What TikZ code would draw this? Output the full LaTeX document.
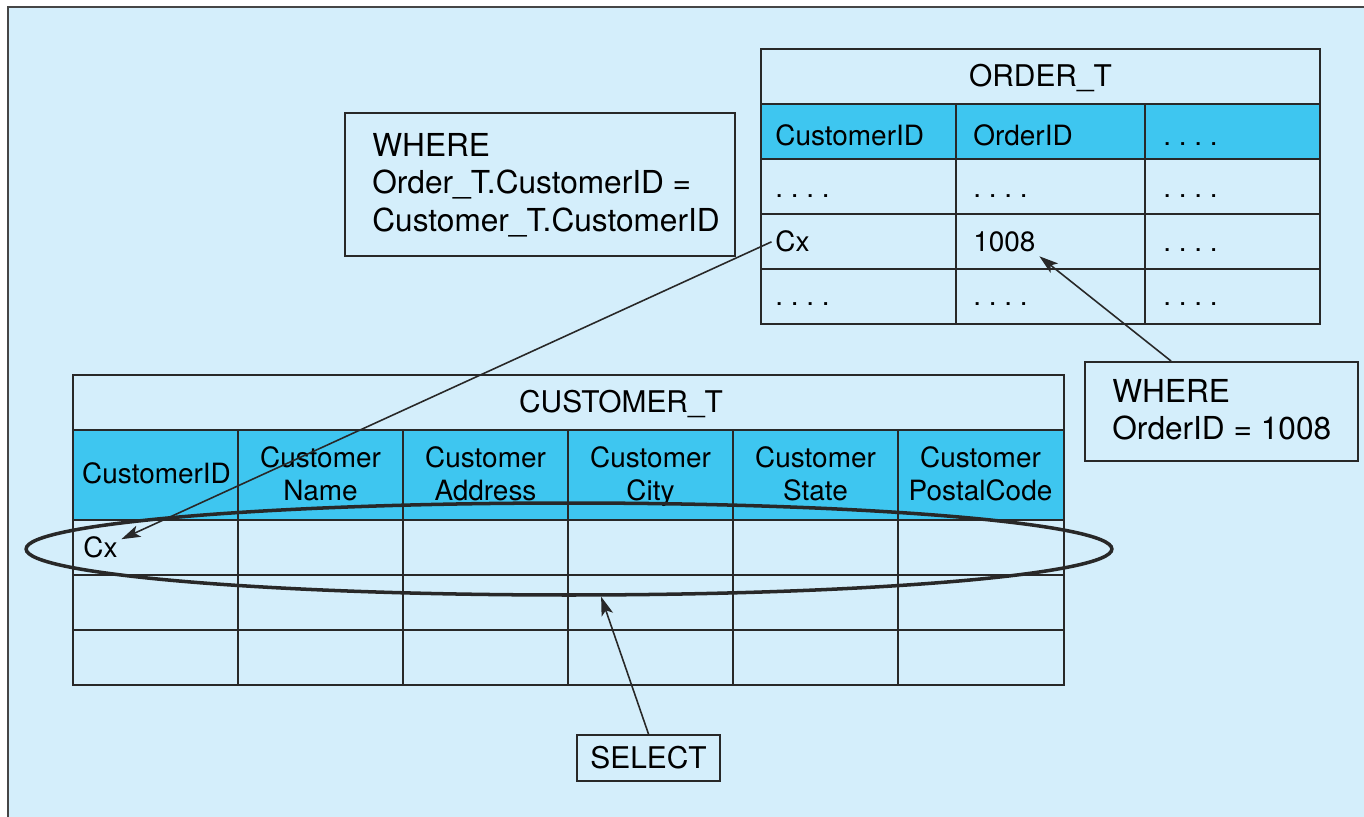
\documentclass[tikz,border=0pt]{standalone}
\usepackage{fontspec}
\setmainfont{TeX Gyre Heros}
\usepackage{tikz}
\usetikzlibrary{positioning,arrows.meta,shapes.geometric}
\definecolor{bgblue}{RGB}{212,238,251}
\definecolor{hdrblue}{RGB}{62,198,240}
\definecolor{ink}{RGB}{40,40,40}
\definecolor{frame}{RGB}{70,70,70}
\newcommand{\fcell}{\fontsize{15.9pt}{18.7pt}\selectfont}
\newcommand{\ftitle}{\fontsize{17pt}{20pt}\selectfont}
\newcommand{\fquery}{\fontsize{18pt}{21.3pt}\selectfont}
\newcommand{\dotrow}{.\ .\ .\ .}

\begin{document}
\begin{tikzpicture}[x=0.02cm, y=-0.02cm,
  tabline/.style={draw=ink, line width=1.1pt},
  cell/.style={inner sep=2pt, anchor=base west, font=\fcell},
  head/.style={inner sep=0pt, align=center, font=\fcell},
  title/.style={anchor=base, font=\ftitle},
  qbox/.style={draw=ink, line width=1.1pt, inner sep=0pt},
  qtext/.style={anchor=west, align=left, inner sep=0pt, font=\fquery},
  link/.style={draw=ink, line width=0.9pt, -{Stealth[length=0.38cm, width=0.24cm, inset=0.09cm]}}]
\useasboundingbox (0,0) rectangle (1364,817);
\fill[white] (0,0) rectangle (1364,817);
\draw[draw=frame, line width=1.2pt, fill=bgblue] (8,7) rectangle (1390,840);

\fill[hdrblue] (761,104) rectangle (1320,159);
\draw[tabline] (761,49) rectangle (1320,324);
\draw[tabline] (761,104) -- (1320,104) (761,159) -- (1320,159)
  (761,214) -- (1320,214) (761,269) -- (1320,269)
  (956,104) -- (956,324) (1145,104) -- (1145,324);

\node[title] (ordT) at (1040.5,87) {ORDER\_T};
\node[cell] (ordCid) at (771.5,146) {CustomerID};
\node[cell] (ordOid) at (969.5,146) {OrderID};
\node[cell] (ordMore) at (1159.5,146) {\dotrow};
\node[cell] (ordDotA1) at (771.5,198) {\dotrow};
\node[cell] (ordDotB1) at (969.5,198) {\dotrow};
\node[cell] (ordDotC1) at (1159.5,198) {\dotrow};
\node[cell] (ordCx) at (771.5,252) {Cx};
\node[cell] (ordNum) at (969.5,252) {1008};
\node[cell] (ordDotC2) at (1159.5,252) {\dotrow};
\node[cell] (ordDotA3) at (771.5,305) {\dotrow};
\node[cell] (ordDotB3) at (969.5,305) {\dotrow};
\node[cell] (ordDotC3) at (1159.5,305) {\dotrow};

\fill[hdrblue] (73,430) rectangle (1064,520);
\draw[tabline] (73,375) rectangle (1064,685);
\draw[tabline] (73,430) -- (1064,430) (73,520) -- (1064,520)
  (73,575) -- (1064,575) (73,630) -- (1064,630)
  (238,430) -- (238,685) (403,430) -- (403,685) (568,430) -- (568,685)
  (733,430) -- (733,685) (898,430) -- (898,685);

\node[title] (custT) at (621,412) {CUSTOMER\_T};
\node[head] (custId) at (156.5,473) {CustomerID};
\node[head] (custName) at (320.5,474) {Customer\\Name};
\node[head] (custAddr) at (485.5,474) {Customer\\Address};
\node[head] (custCity) at (650.5,477) {Customer\\City};
\node[head] (custState) at (815.5,474) {Customer\\State};
\node[head] (custPost) at (980.5,474) {Customer\\PostalCode};
\node[cell] (custCx) at (79.5,557) {Cx};

\node[qbox, minimum width=7.8cm, minimum height=2.86cm] (where1) at (540,184.5) {};
\node[qtext] (where1txt) at (372,185) {WHERE\\Order\_T.CustomerID =\\Customer\_T.CustomerID};
\node[qbox, minimum width=5.46cm, minimum height=1.98cm] (where2) at (1221.5,411.5) {};
\node[qtext] (where2txt) at (1112,410) {WHERE\\OrderID = 1008};
\node[qbox, minimum width=2.86cm, minimum height=0.92cm, font=\ftitle] (select) at (648.5,758) {SELECT};

\node[draw=ink, line width=2pt, ellipse, inner sep=0pt,
  minimum width=21.72cm, minimum height=1.84cm] (rowSel) at (569,549) {};

\draw
  (ordCx.west) edge[link] (custCx.20)
  (where2.135) edge[link] (ordNum.south east)
  (select.north) edge[link] (rowSel.-56)
;
\end{tikzpicture}
\end{document}
